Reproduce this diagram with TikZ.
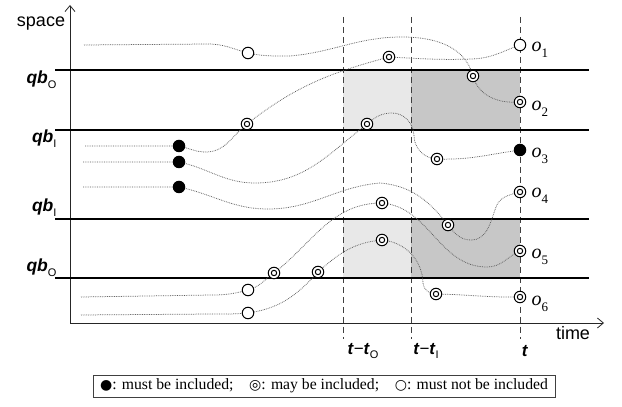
\documentclass[tikz,border=0pt]{standalone}
\usepackage{fontspec}
\setmainfont{Liberation Serif}
\newfontfamily\lsans{Liberation Sans}
\newfontfamily\djv{DejaVu Sans}
\usetikzlibrary{arrows.meta}
\newcommand\qbsub[1]{\textbf{\textit{qb}}\raisebox{-0.28em}{\fontsize{11}{11}\selectfont\mdseries\upshape #1}}
\newcommand\tsub[1]{\textbf{\textit{t}}\raisebox{-0.28em}{\fontsize{11}{11}\selectfont\mdseries\upshape #1}}
\newcommand\osub[1]{\textit{o}\raisebox{-0.3em}{\fontsize{13}{13}\selectfont #1}}
\newcommand\lsym[1]{{\djv\fontsize{14}{14}\selectfont #1}}
\begin{document}
\begin{tikzpicture}[x=1pt,y=1pt,
  traj/.style={densely dotted, line width=0.75pt, black!65},
  bound/.style={line width=2.4pt},
  vdash/.style={dash pattern=on 6pt off 4pt, line width=0.9pt, black!75},
  axis/.style={line width=0.8pt, black!85},
  nin/.style={circle, draw, fill=white, line width=1pt, minimum size=11.5pt, inner sep=0pt},
  may/.style={circle, draw, fill=white, line width=1pt, minimum size=11.5pt, inner sep=0pt,
    path picture={\draw[line width=1pt] (path picture bounding box.center) circle (2.7pt);}},
  must/.style={circle, fill=black, minimum size=12.5pt, inner sep=0pt},
  qbl/.style={font=\lsans\fontsize{17.5}{17.5}\selectfont, anchor=east},
  tl/.style={font=\lsans\fontsize{17}{17}\selectfont},
  axl/.style={font=\lsans\fontsize{18}{18}\selectfont},
  ol/.style={font=\fontsize{20}{20}\selectfont, anchor=west},
  legendbox/.style={draw=black!75, line width=0.8pt, minimum width=462pt, minimum height=22pt, inner sep=0pt, font=\fontsize{15.7}{15.7}\selectfont}
]
\useasboundingbox (0,0) rectangle (622,407);
% shaded regions
\fill[black!9] (343,277) rectangle (411,337);
\fill[black!9] (343,129) rectangle (411,188);
\fill[black!22] (411,277) rectangle (520,337);
\fill[black!22] (411,129) rectangle (520,188);
% dashed time lines
\coordinate (d1t) at (343,390); \coordinate (d1b) at (343,68);
\coordinate (d2t) at (411,390); \coordinate (d2b) at (411,68);
\coordinate (d3t) at (520,390); \coordinate (d3b) at (520,68);
\draw[vdash] (d1t) -- (d1b);
\draw[vdash] (d2t) -- (d2b);
\draw[vdash] (d3t) -- (d3b);
% axes
\coordinate (orig) at (70,84);
\coordinate (ytop) at (70,402);
\coordinate (xend) at (604,84);
\draw[axis, -{Straight Barb[length=6pt,width=10pt]}] (orig) -- (ytop);
\draw[axis, -{Straight Barb[length=6pt,width=10pt]}] (orig) -- (xend);
\node[axl] (space) at (41,383) {space};
\node[axl] (time) at (573,74) {time};
% query boundaries
\coordinate (b1l) at (55,337); \coordinate (b1r) at (589,337);
\coordinate (b2l) at (55,277); \coordinate (b2r) at (589,277);
\coordinate (b3l) at (55,188); \coordinate (b3r) at (589,188);
\coordinate (b4l) at (55,129); \coordinate (b4r) at (589,129);
\draw[bound] (b1l) -- (b1r);
\draw[bound] (b2l) -- (b2r);
\draw[bound] (b3l) -- (b3r);
\draw[bound] (b4l) -- (b4r);
\node[qbl] (qb1) at (60,327) {\qbsub{O}};
\node[qbl] (qb2) at (60,268) {\qbsub{I}};
\node[qbl] (qb3) at (60,199) {\qbsub{I}};
\node[qbl] (qb4) at (60,139) {\qbsub{O}};
% time labels
\node[tl] (tlo) at (363,56) {\textbf{\textit{t}}−\tsub{O}};
\node[tl] (tli) at (426,56) {\textbf{\textit{t}}−\tsub{I}};
\node[tl] (tlt) at (525,56) {\textbf{\textit{t}}};
% trajectory coordinates
% o1
\coordinate (a0) at (85,261); \coordinate (a1) at (179,261); \coordinate (a2) at (206,255);
\coordinate (a3) at (247,283); \coordinate (a4) at (389,350); \coordinate (a5) at (472,348);
\coordinate (a6) at (520,362);
% o2
\coordinate (b0) at (84,362); \coordinate (b1) at (208,363); \coordinate (b2) at (248,354);
\coordinate (b3) at (290,351); \coordinate (b4) at (402,370); \coordinate (b5) at (473,331);
\coordinate (b6) at (520,305);
% o3
\coordinate (c0) at (83,245); \coordinate (c1) at (179,245); \coordinate (c2) at (255,224);
\coordinate (c3) at (367,283); \coordinate (c4) at (392,294); \coordinate (c5) at (414,271);
\coordinate (c6) at (437,248); \coordinate (c7) at (520,257);
% o4
\coordinate (e0) at (83,220); \coordinate (e1) at (179,220); \coordinate (e2) at (268,198);
\coordinate (e3) at (380,224); \coordinate (e4) at (448,182); \coordinate (e5) at (471,167);
\coordinate (e6) at (496,200); \coordinate (e7) at (520,215);
% o5
\coordinate (f0) at (81,110); \coordinate (f1) at (212,112); \coordinate (f2) at (248,117);
\coordinate (f3) at (274,134); \coordinate (f4) at (382,204); \coordinate (f5) at (487,140);
\coordinate (f6) at (520,156);
% o6
\coordinate (g0) at (81,92); \coordinate (g1) at (212,93); \coordinate (g2) at (248,94);
\coordinate (g3) at (318,135); \coordinate (g4) at (382,167); \coordinate (g5) at (423,124);
\coordinate (g6) at (436,113); \coordinate (g7) at (520,110);
% trajectories
\draw[traj] (a0) -- (a1) to[out=-12,in=180] (a2) to[out=0,in=218] (a3)
  to[out=38,in=195] (a4) to[out=-3,in=182] (a5) to[out=2,in=200] (a6);
\draw[traj] (b0) -- (b1) to[out=0,in=165] (b2) to[out=-12,in=180] (b3)
  to[out=5,in=180] (b4) to[out=0,in=105] (b5) to[out=-75,in=185] (b6);
\draw[traj] (c0) -- (c1) to[out=-12,in=180] (c2) to[out=0,in=218] (c3)
  to[out=40,in=180] (c4) to[out=0,in=92] (c5) to[out=-88,in=178] (c6) to[out=-2,in=188] (c7);
\draw[traj] (e0) -- (e1) to[out=-12,in=180] (e2) to[out=0,in=185] (e3)
  to[out=-5,in=128] (e4) to[out=-52,in=180] (e5) to[out=0,in=-110] (e6) to[out=70,in=195] (e7);
\draw[traj] (f0) -- (f1) to[out=0,in=195] (f2) to[out=15,in=215] (f3)
  to[out=38,in=180] (f4) to[out=-5,in=180] (f5) to[out=0,in=205] (f6);
\draw[traj] (g0) -- (g1) to[out=0,in=185] (g2) to[out=8,in=228] (g3)
  to[out=42,in=185] (g4) to[out=-5,in=92] (g5) to[out=-88,in=180] (g6) to[out=-1,in=181] (g7);
% object marks
\node[must] (m1) at (a1) {}; \node[may] (m2) at (a3) {}; \node[may] (m3) at (a4) {}; \node[nin] (m4) at (a6) {};
\node[nin] (n1) at (b2) {}; \node[may] (n2) at (b5) {}; \node[may] (n3) at (b6) {};
\node[must] (p1) at (c1) {}; \node[may] (p2) at (c3) {}; \node[may] (p3) at (c6) {}; \node[must] (p4) at (c7) {};
\node[must] (q1) at (e1) {}; \node[may] (q2) at (e4) {}; \node[may] (q3) at (e7) {};
\node[nin] (r1) at (f2) {}; \node[may] (r2) at (f3) {}; \node[may] (r3) at (f4) {}; \node[may] (r4) at (f6) {};
\node[nin] (s1) at (g2) {}; \node[may] (s2) at (g3) {}; \node[may] (s3) at (g4) {}; \node[may] (s4) at (g6) {}; \node[may] (s5) at (g7) {};
% object labels
\node[ol] (o1) at (528,357) {\osub{1}};
\node[ol] (o2) at (528,298) {\osub{2}};
\node[ol] (o3) at (528,251) {\osub{3}};
\node[ol] (o4) at (528,211) {\osub{4}};
\node[ol] (o5) at (528,150) {\osub{5}};
\node[ol] (o6) at (528,103) {\osub{6}};
% legend
\node[legendbox] (legend) at (324,21) {\lsym{●}: must be included;\quad\lsym{◎}: may be included;\quad\lsym{○}: must not be included};
\end{tikzpicture}
\end{document}
